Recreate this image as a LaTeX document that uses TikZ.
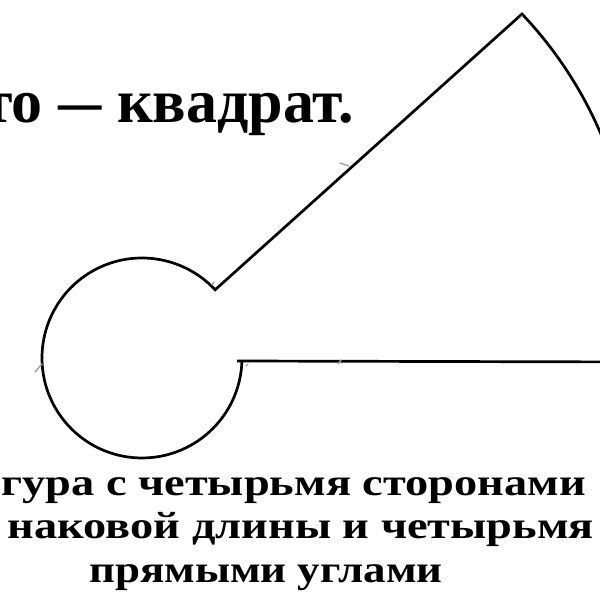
\documentclass[tikz,border=0pt]{standalone}
\usepackage{fontspec}
\setmainfont{Liberation Serif}
\newfontfamily\widefont[FakeStretch=1.22]{Liberation Serif}
\begin{document}
\begin{tikzpicture}[x=1pt,y=1pt,
  outline/.style={line width=2.7pt, black, line join=miter},
  tickmark/.style={line width=1.4pt, gray!75, line cap=round},
  toptext/.style={inner sep=0pt, font=\bfseries\fontsize{62}{62}\selectfont},
  bottext/.style={inner sep=0pt, font=\widefont\bfseries\fontsize{38}{38}\selectfont}]
\useasboundingbox (0,0) rectangle (600,600);
\clip (0,0) rectangle (600,600);
% figure
\coordinate (E) at (640,238);
\coordinate (L) at (237,239);
\coordinate (B) at (241.9,238);
\coordinate (A) at (215,310);
\coordinate (P) at (522,586);
\draw[outline] (E) -- (L);
\draw[outline] (B) arc[start angle=-2.3, end angle=-317, radius=100] -- (P)
  arc[start angle=43.5, end angle=-20, radius=406];
% small construction marks
\coordinate (t1a) at (212,315); \coordinate (t1b) at (214,318);
\coordinate (t2a) at (340,437); \coordinate (t2b) at (349,434);
\coordinate (t3a) at (520,582); \coordinate (t3b) at (522,584);
\coordinate (t4a) at (35,228);  \coordinate (t4b) at (42,236);
\coordinate (t5a) at (246,234); \coordinate (t5b) at (248,236);
\coordinate (t6a) at (338,236); \coordinate (t6b) at (341,240);
\foreach \k in {1,...,6} {\draw[tickmark] (t\k a) -- (t\k b);}
% texts
\node[toptext, anchor=base east] (top) at (354,477) {то \scalebox{0.7}[1]{—} квадрат.};
\node[bottext, anchor=base east] (l1) at (586,104) {гура с четырьмя сторонами};
\node[bottext, anchor=base east] (l2) at (594,61) {наковой длины и четырьмя};
\node[bottext, anchor=base, xscale=0.97] (l3) at (266,17) {прямыми углами};
\end{tikzpicture}
\end{document}
